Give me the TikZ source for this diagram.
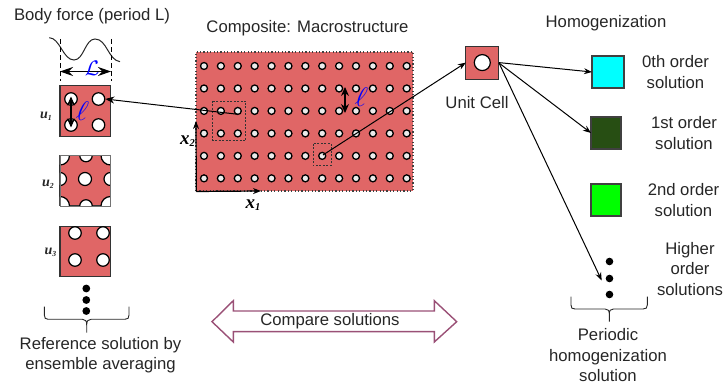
\documentclass[tikz,border=0pt]{standalone}
\usepackage{fontspec}
\setmainfont{Liberation Sans}
\newfontfamily\serifit{Liberation Serif}
\usetikzlibrary{arrows.meta}
\definecolor{cellred}{HTML}{E06666}
\definecolor{cmp}{HTML}{9A5076}
\definecolor{darkg}{HTML}{274E13}
\definecolor{solcyan}{HTML}{00FFFF}
\definecolor{solgreen}{HTML}{00FF00}
\newcommand{\lowsub}[1]{\raisebox{-.3ex}{\scalebox{.55}{#1}}}
\tikzset{
 x=1pt,y=-1pt,
 lab/.style={font=\fontsize{16.7}{20.5}\selectfont,align=center,text=black!85,inner sep=0pt},
 cellbox/.style={draw=black!80,line width=1.1pt,fill=cellred,minimum size=#1,inner sep=0pt,outer sep=0pt},
 solbox/.style={draw=black!75,line width=1.1pt,minimum width=#1,minimum height=32pt,inner sep=0pt,outer sep=0pt},
 hole/.style={draw=black,line width=1.2pt,fill=white,circle,minimum size=#1,inner sep=0pt},
 mhole/.style={draw=black,line width=1.3pt,fill=white!92!black,circle,minimum size=7pt,inner sep=0pt},
 conn/.style={draw=black,line width=1pt,-{Stealth[length=8pt,width=6pt]}},
 dim/.style={draw=black,line width=1.2pt,{Stealth[length=9pt,width=8pt]}-{Stealth[length=9pt,width=8pt]}},
 dashbox/.style={draw=black!80,line width=.5pt,dash pattern=on 2pt off 1.5pt},
 vdash/.style={draw=black,line width=.9pt,dash pattern=on 5pt off 3pt},
 dotn/.style={fill=black,circle,minimum size=#1,inner sep=0pt},
 ulab/.style={font=\serifit\bfseries\itshape\fontsize{14}{14}\selectfont,inner sep=0pt,text=black!85},
 xlab/.style={font=\serifit\bfseries\itshape\fontsize{19}{19}\selectfont,inner sep=0pt},
 blue L/.style={text=blue,inner sep=0pt,scale=2.1},
 blue ell/.style={text=blue,inner sep=0pt,scale=2.7,xslant=.15},
 brace/.style={draw=black!85,line width=.9pt},
}
\begin{document}
\begin{tikzpicture}
\useasboundingbox (0,0) rectangle (724,387);
% titles
\node[lab] (t1) at (92,16) {Body force (period L)};
\node[lab] (t2) at (307.5,28) {Composite: Macrostructure};
\node[lab] (t3) at (606,23) {Homogenization};
% wave
\draw[line width=1pt,black!85] (49.3,37.7) .. controls (60,38) and (63,60) .. (74,60)
  .. controls (84,60) and (85,39) .. (95,39) .. controls (107,39) and (108,60) .. (120,61.7);
\coordinate (dl0) at (60,39); \coordinate (dl1) at (60,81);
\coordinate (dr0) at (111,39); \coordinate (dr1) at (111,81);
\draw[vdash] (dl0)--(dl1); \draw[vdash] (dr0)--(dr1);
\draw[draw=black,line width=1.2pt,{Stealth[length=13pt,width=9pt]}-{Stealth[length=13pt,width=9pt]}] (60,71.5) -- (111,71.5);
\node[blue L] (bigL) at (92,68.5) {$\mathcal{L}$};
% u1
\node[cellbox=50.5pt] (u1) at (85.2,111.2) {};
\foreach \n/\a/\b in {a/71/99,b/98.5/99,c/71/125,d/98.5/125}
  \node[hole=12.5pt] (u1\n) at (\a,\b) {};
\coordinate (e0) at (71,96.5); \coordinate (e1) at (71,127.5);
\draw[dim] (e0) -- (e1);
\node[blue ell] (ell1) at (82.5,111) {$\ell$};
\node[ulab] (ul1) at (46,116) {u\lowsub{1}};
% u2
\node[cellbox=50.5pt] (u2) at (85.2,180.7) {};
\begin{scope}
 \clip (u2.south west) rectangle (u2.north east);
 \foreach \a/\b/\r in {85/179/13,60/179/13,110.5/179/13,86/155.5/12.5,86/206/12.5,60/155.5/19,110.5/155.5/19,60/206/19,110.5/206/19}
   \node[hole=\r pt] at (\a,\b) {};
\end{scope}
\draw[black!55,line width=.8pt] (u2.south west) rectangle (u2.north east);
\node[ulab] (ul2) at (48,184) {u\lowsub{2}};
% u3
\node[cellbox=50.5pt] (u3) at (85.2,251.5) {};
\foreach \a/\b in {75/233,103/233,75/260,103/260}
  \node[hole=12.5pt] at (\a,\b) {};
\node[ulab] (ul3) at (50.5,252) {u\lowsub{3}};
% dots + brace left
\foreach \n/\b in {1/288.5,2/300,3/311} \node[dotn=7.8pt] (ld\n) at (86.3,\b) {};
\draw[brace] (44.3,306.7) -- (44.3,315) .. controls (44.3,318) and (45.5,319.3) .. (48,319.3) -- (82.5,319.3)
  .. controls (85.5,319.3) and (86.7,321) .. (86.7,325) -- (86.7,332.7)
  (86.7,325) .. controls (86.7,321) and (88,319.3) .. (91,319.3) -- (125,319.3)
  .. controls (128,319.3) and (129,318) .. (129,315) -- (129,306.7);
\node[lab] (reftxt) at (100.5,355) {Reference solution by\\ensemble averaging};
% macrostructure
\node[draw=black!75,line width=1.2pt,dash pattern=on 1.2pt off 2.2pt,fill=cellred,minimum width=217pt,minimum height=139pt,inner sep=0pt,outer sep=0pt] (macro) at (304.5,121.5) {};
\foreach \i in {0,...,12} \foreach \j in {0,...,5}
  \node[mhole] (m\i-\j) at ({204+16.89*\i},{66+22.47*\j}) {};
\draw[dashbox] (212.7,101) rectangle (245.7,140.7);
\draw[dashbox] (313.3,143.7) rectangle (331,165.7);
% axes
\coordinate (orig) at (196.3,191.5); \coordinate (ax1) at (261,191); \coordinate (ax2) at (196,121);
\draw[draw=black,line width=1.2pt,-{Stealth[length=8pt,width=6pt]}] (orig) -- (ax1);
\draw[draw=black,line width=1.2pt,-{Stealth[length=8pt,width=6pt]}] (orig) -- (ax2);
\node[xlab] (x1) at (253,205) {x\lowsub{1}};
\node[xlab] (x2) at (187.5,141) {x\lowsub{2}};
% ell in macro
\coordinate (le0) at (345,87); \coordinate (le1) at (345,113);
\draw[dim] (le0) -- (le1);
\node[blue ell] (ell2) at (361.5,97) {$\ell$};
% unit cell
\node[cellbox=33pt] (ucell) at (482.4,62.6) {};
\node[hole=16pt] (uhole) at (482.3,62.6) {};
\node[lab] (uctxt) at (477,103) {Unit Cell};
% solutions
\node[solbox=32pt,fill=solcyan] (s0) at (608,72) {};
\node[solbox=30pt,fill=darkg] (s1) at (606,133) {};
\node[solbox=30pt,fill=solgreen] (s2) at (606,200) {};
\node[lab] (s0t) at (675.5,72) {0th order\\solution};
\node[lab] (s1t) at (684,133) {1st order\\solution};
\node[lab] (s2t) at (683.5,200) {2nd order\\solution};
\node[lab] (s3t) at (690,269) {Higher\\order\\solutions};
% right dots + brace
\foreach \n/\b in {1/261.5,2/278.5,3/294.5} \node[dotn=7.6pt] (rd\n) at (609.5,\b) {};
\draw[brace] (571,296.7) -- (571,305) .. controls (571,308) and (572,309) .. (575,309) -- (605,309)
  .. controls (608,309) and (609.3,310.5) .. (609.3,314) -- (609.3,321.7)
  (609.3,314) .. controls (609.3,310.5) and (610.5,309) .. (613.5,309) -- (643,309)
  .. controls (646,309) and (647.3,308) .. (647.3,305) -- (647.3,296.7);
\node[lab] (pertxt) at (608,355.5) {Periodic\\homogenization\\solution};
% connectors
\coordinate (c1) at (238,114.3); \coordinate (c2) at (323,155);
\coordinate (c3) at (601.7,280.5);
\coordinate (out) at (499,63);
\draw[draw=black,line width=1pt,-{Stealth[length=9pt,width=7pt]}] (c1) -- (u1b.east);
\draw[conn] (c2) -- (ucell.west);
\draw[conn] (ucell.east) -- (s0.west);
\draw[conn] (out) -- (s1.west);
\draw[conn] (out) -- (c3);
% compare arrow
\node[lab] (cmp) at (330,321) {Compare solutions};
\draw[draw=cmp,line width=1.4pt,line join=miter] (212,321.7) -- (233.3,300.7) -- (233.3,311) -- (434.3,311) -- (434.3,300.7) -- (456.7,321.7) -- (434.3,342) -- (434.3,331.7) -- (233.3,331.7) -- (233.3,342) -- cycle;
\end{tikzpicture}
\end{document}
